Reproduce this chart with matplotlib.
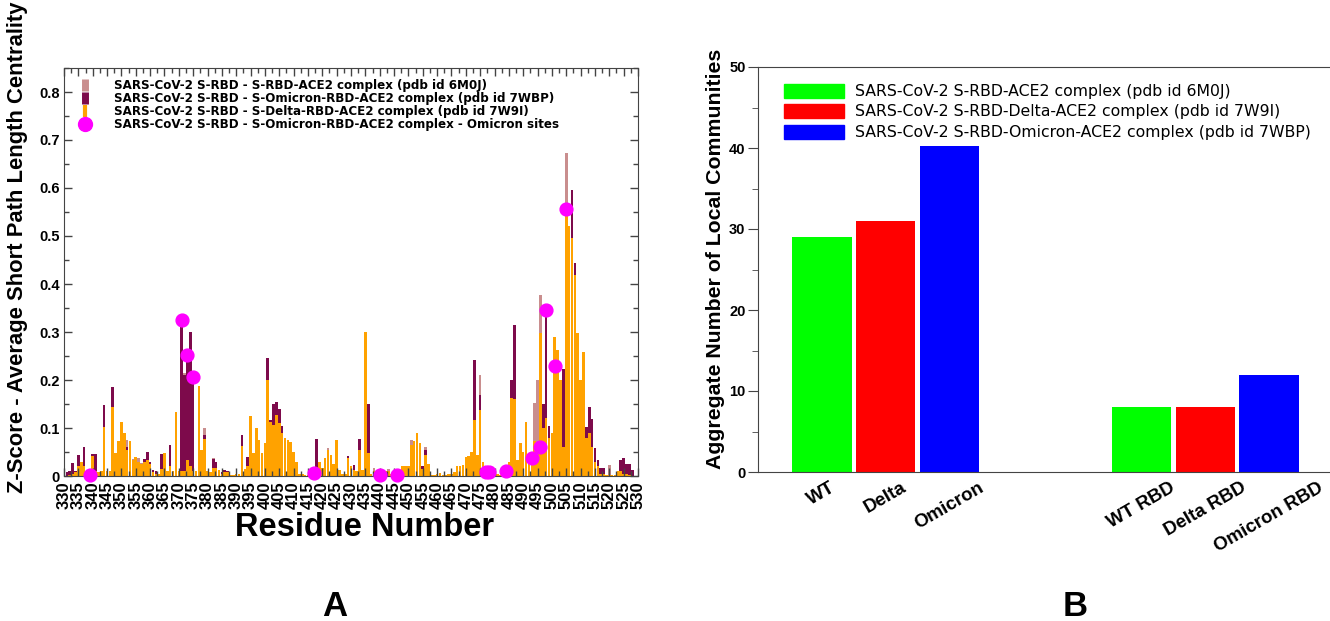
"""Centrality profile and local community counts for SARS-CoV-2 RBD complexes."""

from matplotlib import pyplot as plt
from matplotlib.lines import Line2D
from matplotlib.patches import Patch
from matplotlib.ticker import FuncFormatter, MultipleLocator
import numpy as np

# * -------------------------------------------------------------------------------- * #
# * DATA

residues = np.arange(330, 530)

# Z-score of average short path length centrality, one value per residue (330..529)
wt_scores = [
    0.000, 0.003, 0.008, 0.010, 0.010, 0.030, 0.030, 0.050, 0.010, 0.003,  # 330
    0.045, 0.040, 0.008, 0.010, 0.100, 0.010, 0.010, 0.150, 0.020, 0.070,  # 340
    0.113, 0.090, 0.075, 0.072, 0.035, 0.040, 0.037, 0.028, 0.035, 0.045,  # 350
    0.030, 0.010, 0.008, 0.005, 0.020, 0.045, 0.010, 0.020, 0.005, 0.030,  # 360
    0.010, 0.300, 0.214, 0.220, 0.200, 0.190, 0.010, 0.020, 0.037, 0.099,  # 370
    0.010, 0.008, 0.037, 0.030, 0.010, 0.005, 0.010, 0.010, 0.003, 0.003,  # 380
    0.005, 0.005, 0.060, 0.010, 0.035, 0.120, 0.040, 0.095, 0.070, 0.040,  # 390
    0.065, 0.200, 0.113, 0.120, 0.130, 0.120, 0.080, 0.075, 0.070, 0.068,  # 400
    0.050, 0.030, 0.005, 0.005, 0.003, 0.002, 0.003, 0.005, 0.010, 0.025,  # 410
    0.010, 0.038, 0.058, 0.040, 0.026, 0.070, 0.010, 0.005, 0.005, 0.040,  # 420
    0.020, 0.010, 0.010, 0.020, 0.010, 0.217, 0.040, 0.005, 0.017, 0.010,  # 430
    0.005, 0.010, 0.010, 0.015, 0.005, 0.005, 0.005, 0.003, 0.020, 0.020,  # 440
    0.020, 0.075, 0.072, 0.080, 0.060, 0.020, 0.061, 0.020, 0.003, 0.003,  # 450
    0.005, 0.007, 0.003, 0.003, 0.005, 0.005, 0.008, 0.020, 0.020, 0.020,  # 460
    0.040, 0.040, 0.050, 0.120, 0.040, 0.210, 0.030, 0.005, 0.005, 0.003,  # 470
    0.003, 0.005, 0.003, 0.005, 0.010, 0.030, 0.100, 0.150, 0.030, 0.060,  # 480
    0.040, 0.100, 0.030, 0.030, 0.153, 0.200, 0.377, 0.100, 0.150, 0.090,  # 490
    0.070, 0.250, 0.240, 0.050, 0.080, 0.672, 0.450, 0.500, 0.400, 0.250,  # 500
    0.150, 0.250, 0.080, 0.100, 0.080, 0.040, 0.020, 0.010, 0.010, 0.003,  # 510
    0.023, 0.003, 0.003, 0.005, 0.020, 0.020, 0.020, 0.005, 0.003, 0.000,  # 520
]
omicron_scores = [
    0.003, 0.008, 0.010, 0.028, 0.010, 0.044, 0.030, 0.061, 0.010, 0.003,  # 330
    0.045, 0.045, 0.008, 0.010, 0.148, 0.010, 0.010, 0.186, 0.020, 0.065,  # 340
    0.090, 0.090, 0.060, 0.060, 0.030, 0.035, 0.030, 0.025, 0.035, 0.050,  # 350
    0.030, 0.012, 0.010, 0.005, 0.046, 0.030, 0.010, 0.065, 0.005, 0.030,  # 360
    0.010, 0.325, 0.210, 0.252, 0.300, 0.207, 0.010, 0.020, 0.030, 0.085,  # 370
    0.010, 0.008, 0.035, 0.030, 0.010, 0.008, 0.012, 0.010, 0.003, 0.003,  # 380
    0.005, 0.005, 0.085, 0.010, 0.039, 0.100, 0.040, 0.080, 0.060, 0.040,  # 390
    0.065, 0.245, 0.117, 0.151, 0.155, 0.140, 0.105, 0.070, 0.070, 0.060,  # 400
    0.045, 0.030, 0.005, 0.005, 0.003, 0.002, 0.003, 0.006, 0.078, 0.025,  # 410
    0.010, 0.035, 0.050, 0.040, 0.025, 0.076, 0.010, 0.005, 0.005, 0.042,  # 420
    0.020, 0.023, 0.010, 0.078, 0.010, 0.217, 0.150, 0.005, 0.010, 0.005,  # 430
    0.003, 0.010, 0.005, 0.010, 0.005, 0.005, 0.003, 0.003, 0.015, 0.020,  # 440
    0.020, 0.060, 0.060, 0.070, 0.050, 0.020, 0.054, 0.015, 0.003, 0.003,  # 450
    0.005, 0.007, 0.003, 0.003, 0.005, 0.005, 0.008, 0.015, 0.015, 0.020,  # 460
    0.040, 0.041, 0.050, 0.242, 0.040, 0.168, 0.030, 0.008, 0.008, 0.003,  # 470
    0.003, 0.005, 0.003, 0.005, 0.010, 0.030, 0.200, 0.315, 0.030, 0.030,  # 480
    0.030, 0.090, 0.030, 0.038, 0.040, 0.040, 0.060, 0.151, 0.346, 0.104,  # 490
    0.060, 0.229, 0.200, 0.050, 0.222, 0.556, 0.450, 0.596, 0.443, 0.250,  # 500
    0.120, 0.200, 0.103, 0.144, 0.118, 0.058, 0.033, 0.016, 0.016, 0.003,  # 510
    0.003, 0.003, 0.003, 0.005, 0.033, 0.037, 0.026, 0.026, 0.012, 0.000,  # 520
]
delta_scores = [
    0.000, 0.000, 0.003, 0.005, 0.008, 0.020, 0.030, 0.020, 0.005, 0.003,  # 330
    0.042, 0.010, 0.008, 0.010, 0.103, 0.010, 0.010, 0.144, 0.047, 0.072,  # 340
    0.113, 0.090, 0.054, 0.072, 0.033, 0.040, 0.030, 0.026, 0.030, 0.033,  # 350
    0.026, 0.008, 0.005, 0.005, 0.015, 0.047, 0.010, 0.020, 0.010, 0.134,  # 360
    0.010, 0.010, 0.010, 0.033, 0.020, 0.010, 0.010, 0.187, 0.055, 0.078,  # 370
    0.010, 0.008, 0.016, 0.016, 0.012, 0.005, 0.008, 0.008, 0.003, 0.003,  # 380
    0.005, 0.005, 0.063, 0.015, 0.020, 0.125, 0.047, 0.100, 0.075, 0.047,  # 390
    0.068, 0.200, 0.113, 0.106, 0.127, 0.110, 0.090, 0.080, 0.075, 0.070,  # 400
    0.050, 0.030, 0.005, 0.005, 0.003, 0.002, 0.003, 0.005, 0.005, 0.030,  # 410
    0.016, 0.038, 0.055, 0.044, 0.026, 0.075, 0.012, 0.005, 0.005, 0.038,  # 420
    0.020, 0.012, 0.010, 0.055, 0.012, 0.300, 0.047, 0.005, 0.010, 0.005,  # 430
    0.005, 0.010, 0.010, 0.010, 0.005, 0.005, 0.003, 0.003, 0.020, 0.020,  # 440
    0.020, 0.065, 0.072, 0.089, 0.068, 0.015, 0.044, 0.026, 0.003, 0.003,  # 450
    0.005, 0.007, 0.003, 0.003, 0.005, 0.005, 0.008, 0.020, 0.020, 0.023,  # 460
    0.040, 0.041, 0.050, 0.117, 0.044, 0.138, 0.030, 0.005, 0.005, 0.003,  # 470
    0.003, 0.005, 0.003, 0.005, 0.010, 0.030, 0.162, 0.160, 0.033, 0.068,  # 480
    0.050, 0.113, 0.033, 0.030, 0.072, 0.060, 0.297, 0.100, 0.120, 0.080,  # 490
    0.089, 0.290, 0.262, 0.200, 0.060, 0.544, 0.520, 0.495, 0.419, 0.297,  # 500
    0.200, 0.259, 0.080, 0.090, 0.060, 0.030, 0.020, 0.005, 0.005, 0.003,  # 510
    0.003, 0.003, 0.003, 0.011, 0.010, 0.005, 0.005, 0.003, 0.000, 0.000,  # 520
]
omicron_sites = [339, 371, 373, 375, 417, 440, 446, 477, 478, 484, 493, 496, 498, 501, 505]

series_labels = [
    "SARS-CoV-2 S-RBD - S-RBD-ACE2 complex (pdb id 6M0J)",
    "SARS-CoV-2 S-RBD - S-Omicron-RBD-ACE2 complex (pdb id 7WBP)",
    "SARS-CoV-2 S-RBD - S-Delta-RBD-ACE2 complex (pdb id 7W9I)",
    "SARS-CoV-2 S-RBD - S-Omicron-RBD-ACE2 complex - Omicron sites",
]

# Aggregate number of local communities
community_labels = ["WT", "Delta", "Omicron", "WT RBD", "Delta RBD", "Omicron RBD"]
community_counts = [29, 31, 40.3, 8, 8, 12]
community_positions = [0, 1, 2, 5, 6, 7]
community_legend = [
    "SARS-CoV-2 S-RBD-ACE2 complex (pdb id 6M0J)",
    "SARS-CoV-2 S-RBD-Delta-ACE2 complex (pdb id 7W9I)",
    "SARS-CoV-2 S-RBD-Omicron-ACE2 complex (pdb id 7WBP)",
]

WT_COLOR = "#C98E8E"
OMICRON_COLOR = "#7D0A4B"
DELTA_COLOR = "#FFA200"
SITE_COLOR = "#FF00FF"
SPINE_COLOR = "#444444"
LEGEND_FONT = ["DejaVu Sans"]  # wider face, closer to the legend text in the figure

# * -------------------------------------------------------------------------------- * #
# * PLOTS


def plot_centrality(ax):
    """Overlaid per-residue bars with the Omicron mutation sites marked."""
    for scores, color in (
        (wt_scores, WT_COLOR),
        (omicron_scores, OMICRON_COLOR),
        (delta_scores, DELTA_COLOR),
    ):
        ax.bar(residues, scores, width=0.9, color=color, linewidth=0)

    site_scores = [omicron_scores[r - residues[0]] for r in omicron_sites]
    ax.scatter(
        omicron_sites, site_scores, s=85, color=SITE_COLOR, zorder=4, clip_on=False
    )

    ax.set_xlim(330, 530)
    ax.set_ylim(0, 0.85)
    ax.xaxis.set_major_locator(MultipleLocator(5))
    ax.xaxis.set_minor_locator(MultipleLocator(2.5))
    ax.yaxis.set_major_locator(MultipleLocator(0.1))
    ax.yaxis.set_minor_locator(MultipleLocator(0.05))
    ax.yaxis.set_major_formatter(FuncFormatter(lambda v, _: f"{v:g}"))
    ax.tick_params(which="both", direction="in", top=True, right=True,
                   color=SPINE_COLOR, width=1)
    ax.tick_params(which="major", length=6)
    ax.tick_params(which="minor", length=3.5)
    ax.tick_params(axis="x", labelsize=12, labelrotation=90, pad=4)
    ax.tick_params(axis="y", labelsize=10.5, pad=3)
    for spine in ax.spines.values():
        spine.set_color(SPINE_COLOR)

    ax.set_ylabel("Z-Score - Average Short Path Length Centrality", fontsize=15.8)
    ax.yaxis.set_label_coords(-0.063, 0.56)

    handles = [
        Line2D([], [], linestyle="none", marker="|", markersize=8,
               markeredgewidth=5, color=WT_COLOR),
        Line2D([], [], linestyle="none", marker="|", markersize=8,
               markeredgewidth=5, color=OMICRON_COLOR),
        Line2D([], [], linestyle="none", marker="|", markersize=8,
               markeredgewidth=3, color=DELTA_COLOR),
        Line2D([], [], linestyle="none", marker="o", markersize=10,
               color=SITE_COLOR),
    ]
    ax.legend(handles, series_labels, loc="upper left", bbox_to_anchor=(0.02, 0.978),
              frameon=False, prop={"family": LEGEND_FONT, "size": 8.6, "weight": "bold"},
              labelspacing=0.0, handlelength=1.2, handletextpad=1.8,
              borderaxespad=0, borderpad=0.2)


def plot_communities(ax):
    """Grouped bars of local community counts."""
    colors = ["#00FF00", "#FF0000", "#0000FF"] * 2
    ax.bar(community_positions, community_counts, width=0.93, color=colors, linewidth=0)

    ax.set_xlim(-1, 8)
    ax.set_ylim(0, 50)
    ax.set_xticks(community_positions, community_labels, rotation=30, ha="center",
                  fontsize=13.5)
    ax.tick_params(axis="x", length=0, pad=5)
    ax.yaxis.set_major_locator(MultipleLocator(10))
    ax.yaxis.set_minor_locator(MultipleLocator(5))
    ax.tick_params(axis="y", which="both", direction="out", right=True,
                   color=SPINE_COLOR, labelsize=10.5, pad=2)
    ax.tick_params(axis="y", which="major", length=7)
    ax.tick_params(axis="y", which="minor", length=4)
    for spine in ax.spines.values():
        spine.set_color(SPINE_COLOR)

    ax.set_ylabel("Aggregate Number of Local Communities", fontsize=15.3)
    ax.yaxis.set_label_coords(-0.058, 0.526)

    handles = [Patch(color=c) for c in colors[:3]]
    ax.legend(handles, community_legend, loc="upper left", bbox_to_anchor=(0.04, 0.967),
              frameon=False, prop={"family": LEGEND_FONT, "size": 11.3, "weight": "normal"},
              labelspacing=0.33, handlelength=3.8, handleheight=1.0,
              handletextpad=0.7, borderaxespad=0, borderpad=0.2)


# * -------------------------------------------------------------------------------- * #
# * MAIN


def main():
    plt.rcParams["font.family"] = ["Liberation Sans", "DejaVu Sans"]
    plt.rcParams["font.weight"] = "bold"
    plt.rcParams["axes.labelweight"] = "bold"

    fig = plt.figure(figsize=(13.3, 6.21), dpi=100)
    ax_a = fig.add_axes([64 / 1330, 145 / 621, 574 / 1330, 408 / 621])
    ax_b = fig.add_axes([758 / 1330, 149 / 621, 575 / 1330, 405 / 621])

    plot_centrality(ax_a)
    plot_communities(ax_b)

    fig.text(365 / 1330, 1 - 527 / 621, "Residue Number", fontsize=23.5,
             ha="center", va="center")
    fig.text(335 / 1330, 1 - 606 / 621, "A", fontsize=25, ha="center", va="center")
    fig.text(1075 / 1330, 1 - 606 / 621, "B", fontsize=25, ha="center", va="center")

    fig.savefig("out.png", dpi=100)


if __name__ == "__main__":
    main()
